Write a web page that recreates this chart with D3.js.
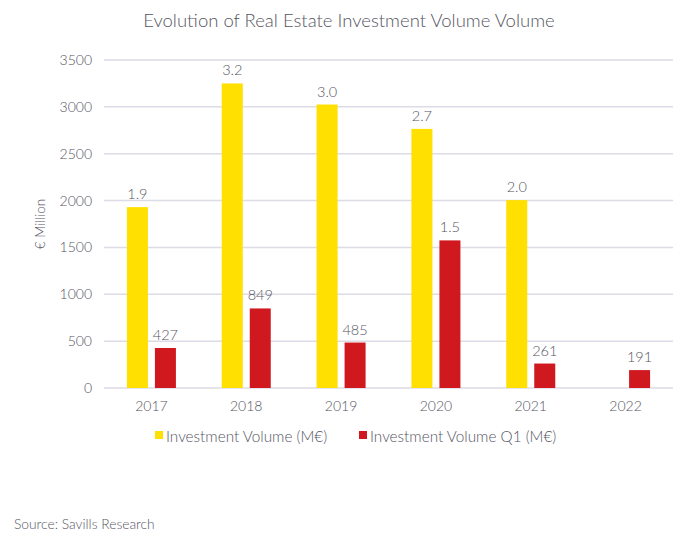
<!DOCTYPE html>
<html lang="en">
<head>
    <meta charset="UTF-8" />
    <title>Evolution of Real Estate Investment Volume</title>
    <script src="https://d3js.org/d3.v7.min.js"></script>
    <style>
        body {
            margin: 0;
            background: #fff;
            font-family: Lato, "Open Sans", sans-serif;
            font-weight: 300;
        }

        svg text {
            fill: #55555f;
        }

        .grid line {
            stroke: #dcdbe6;
            stroke-width: 1.5px;
        }
    </style>
</head>
<body>
    <svg width="697" height="540"></svg>

    <script>
        const years = ["2017", "2018", "2019", "2020", "2021", "2022"];
        const seriesNames = ["Investment Volume (M€)", "Investment Volume Q1 (M€)"];
        const volume = [1930, 3250, 3025, 2765, 2005, null];
        const volumeQ1 = [427, 849, 485, 1575, 261, 191];
        const volumeLabels = ["1.9", "3.2", "3.0", "2.7", "2.0", ""];
        const volumeQ1Labels = ["427", "849", "485", "1.5", "261", "191"];
        const yTicks = [0, 500, 1000, 1500, 2000, 2500, 3000, 3500];
        const colors = ["#ffe000", "#d0191f"];

        const svg = d3.select("svg");
        const plotLeft = 104, plotRight = 673, plotTop = 60, plotBottom = 388;

        const x = d3.scaleBand().domain(years).range([plotLeft, plotRight]);
        const y = d3.scaleLinear().domain([0, 3500]).range([plotBottom, plotTop]);
        const inner = d3.scaleBand().domain(seriesNames).range([-24.5, 24.5]).paddingInner(0.25);

        svg.append("text")
            .attr("x", 349).attr("y", 27)
            .attr("text-anchor", "middle")
            .attr("font-size", 18.5)
            .text("Evolution of Real Estate Investment Volume Volume");

        // gridlines + y labels
        const grid = svg.append("g").attr("class", "grid");
        grid.selectAll("line")
            .data(yTicks)
            .join("line")
            .attr("x1", plotLeft).attr("x2", plotRight)
            .attr("y1", d => y(d)).attr("y2", d => y(d));

        svg.append("g").selectAll("text")
            .data(yTicks)
            .join("text")
            .attr("x", 92).attr("y", d => y(d) + 5)
            .attr("text-anchor", "end")
            .attr("font-size", 14)
            .text(d => d);

        svg.append("text")
            .attr("transform", `translate(45,${(plotTop + plotBottom) / 2}) rotate(-90)`)
            .attr("text-anchor", "middle")
            .attr("font-size", 13.5)
            .text("€ Million");

        // bars
        const series = [
            { name: seriesNames[0], values: volume, labels: volumeLabels, color: colors[0] },
            { name: seriesNames[1], values: volumeQ1, labels: volumeQ1Labels, color: colors[1] }
        ];

        series.forEach(s => {
            const rows = years.map((yr, i) => ({ yr, v: s.values[i], label: s.labels[i] }))
                .filter(d => d.v != null);
            const cx = d => x(d.yr) + x.bandwidth() / 2 + inner(s.name);

            svg.append("g").selectAll("rect")
                .data(rows)
                .join("rect")
                .attr("x", cx)
                .attr("width", inner.bandwidth())
                .attr("y", d => y(d.v))
                .attr("height", d => y(0) - y(d.v))
                .attr("fill", s.color);

            svg.append("g").selectAll("text")
                .data(rows)
                .join("text")
                .attr("x", d => cx(d) + inner.bandwidth() / 2)
                .attr("y", d => y(d.v) - 8)
                .attr("text-anchor", "middle")
                .attr("font-size", 14.5)
                .text(d => d.label);
        });

        // x labels
        svg.append("g").selectAll("text")
            .data(years)
            .join("text")
            .attr("x", d => x(d) + x.bandwidth() / 2)
            .attr("y", 411)
            .attr("text-anchor", "middle")
            .attr("font-size", 14)
            .text(d => d);

        // legend
        const legendX = [155, 359];
        const legend = svg.append("g").selectAll("g")
            .data(series)
            .join("g")
            .attr("transform", (d, i) => `translate(${legendX[i]},437)`);
        legend.append("rect")
            .attr("x", 0).attr("y", -6)
            .attr("width", 8).attr("height", 8)
            .attr("fill", d => d.color);
        legend.append("text")
            .attr("x", 11).attr("y", 5)
            .attr("font-size", 15.3)
            .text(d => d.name);

        svg.append("text")
            .attr("x", 14).attr("y", 529)
            .attr("font-size", 13.8)
            .attr("fill", "#6b6b6b")
            .text("Source: Savills Research");
    </script>
</body>
</html>
